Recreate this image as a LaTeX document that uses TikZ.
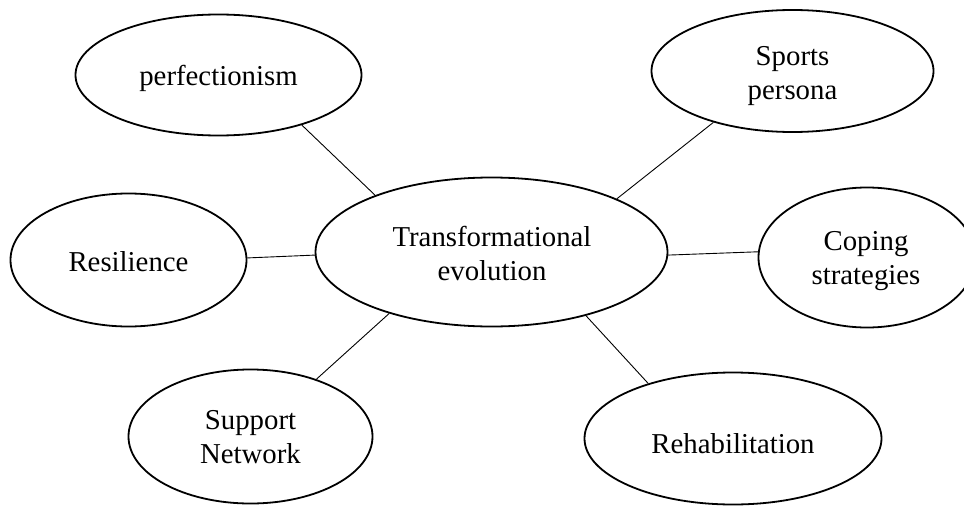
\documentclass[tikz,border=0pt]{standalone}
\usepackage{fontspec}
\setmainfont{Liberation Serif}
\usetikzlibrary{shapes.geometric}
\begin{document}
\begin{tikzpicture}[x=1pt,y=-1pt,
  blob/.style={ellipse, draw, line width=1.8pt, inner sep=0pt},
  lbl/.style={anchor=base, inner sep=0pt, align=center,
    font=\fontsize{28.8}{34}\selectfont},
  link/.style={line width=0.9pt}]
\clip (0,0) rectangle (964,506);
\node[blob, minimum width=286pt, minimum height=121pt] (perf) at (218.5,75) {};
\node[blob, minimum width=282pt, minimum height=122pt] (sport) at (792.5,71) {};
\node[blob, minimum width=236pt, minimum height=133pt] (resil) at (128.5,260) {};
\node[blob, minimum width=352pt, minimum height=149pt] (cen) at (491.5,252) {};
\node[blob, minimum width=217pt, minimum height=140pt] (cope) at (867,257.5) {};
\node[blob, minimum width=244pt, minimum height=134pt] (supp) at (250.5,436.5) {};
\node[blob, minimum width=297pt, minimum height=132pt] (rehab) at (733,438.5) {};
\node[lbl] (perf-t) at (218.5,85) {perfectionism};
\node[lbl] (sport-t) at (792.5,99) {Sports\\persona};
\node[lbl] (resil-t) at (128.5,271.5) {Resilience};
\node[lbl] (cen-t) at (492,280) {Transformational\\evolution};
\node[lbl] (cope-t) at (866,284) {Coping\\strategies};
\node[lbl] (supp-t) at (250.5,463) {Support\\Network};
\node[lbl] (rehab-t) at (733,453) {Rehabilitation};
\draw[link] (perf.-31) -- (cen.154);
\draw[link] (sport.-147.5) -- (cen.23);
\draw[link] (resil.1.5) -- (cen.-179);
\draw[link] (cen.-1) -- (cope.177.6);
\draw[link] (supp.41) -- (cen.-149);
\draw[link] (rehab.147.6) -- (cen.-34);
\end{tikzpicture}
\end{document}
